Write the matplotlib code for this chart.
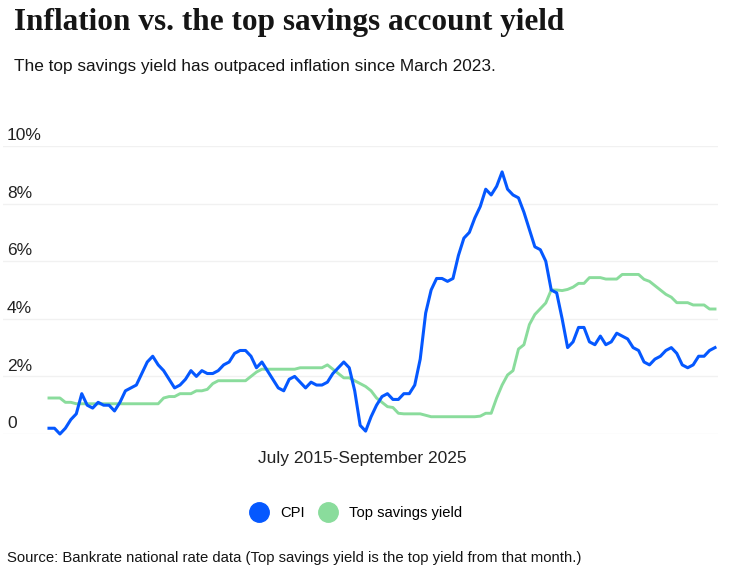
import numpy as np
import matplotlib.pyplot as plt
from matplotlib.lines import Line2D
import pandas as pd

# monthly, July 2015 - September 2025
months = pd.date_range("2015-07-01", "2025-09-01", freq="MS")

cpi = [0.2, 0.2, 0.0, 0.2, 0.5, 0.7,
       1.4, 1.0, 0.9, 1.1, 1.0, 1.0, 0.8, 1.1, 1.5, 1.6, 1.7, 2.1,
       2.5, 2.7, 2.4, 2.2, 1.9, 1.6, 1.7, 1.9, 2.2, 2.0, 2.2, 2.1,
       2.1, 2.2, 2.4, 2.5, 2.8, 2.9, 2.9, 2.7, 2.3, 2.5, 2.2, 1.9,
       1.6, 1.5, 1.9, 2.0, 1.8, 1.6, 1.8, 1.7, 1.7, 1.8, 2.1, 2.3,
       2.5, 2.3, 1.5, 0.3, 0.1, 0.6, 1.0, 1.3, 1.4, 1.2, 1.2, 1.4,
       1.4, 1.7, 2.6, 4.2, 5.0, 5.4, 5.4, 5.3, 5.4, 6.2, 6.8, 7.0,
       7.5, 7.9, 8.5, 8.3, 8.6, 9.1, 8.5, 8.3, 8.2, 7.7, 7.1, 6.5,
       6.4, 6.0, 5.0, 4.9, 4.0, 3.0, 3.2, 3.7, 3.7, 3.2, 3.1, 3.4,
       3.1, 3.2, 3.5, 3.4, 3.3, 3.0, 2.9, 2.5, 2.4, 2.6, 2.7, 2.9,
       3.0, 2.8, 2.4, 2.3, 2.4, 2.7, 2.7, 2.9, 3.0]

top_yield = [1.25, 1.25, 1.25, 1.10, 1.10,
             1.05, 1.05, 1.05, 1.05, 1.05, 1.05, 1.05, 1.05,
             1.05, 1.05, 1.05, 1.05, 1.05, 1.05, 1.05, 1.05,
             1.25, 1.30, 1.30, 1.40, 1.40, 1.40, 1.50, 1.50, 1.55,
             1.75, 1.85, 1.85, 1.85, 1.85, 1.85, 1.85, 2.00, 2.15,
             2.25, 2.25, 2.25, 2.25, 2.25, 2.25, 2.25,
             2.30, 2.30, 2.30, 2.30, 2.30, 2.40, 2.25, 2.10,
             1.95, 1.95, 1.85, 1.75, 1.65, 1.50, 1.25, 1.10, 0.95,
             0.92, 0.72, 0.70, 0.70, 0.70, 0.70, 0.65,
             0.60, 0.60, 0.60, 0.60, 0.60, 0.60, 0.60, 0.60, 0.60,
             0.62, 0.72, 0.72, 1.25, 1.70, 2.05, 2.20, 2.95, 3.10,
             3.80, 4.15, 4.35, 4.55, 5.00, 5.00, 4.98, 5.02, 5.10,
             5.23, 5.23, 5.43, 5.43, 5.43, 5.38, 5.38, 5.38,
             5.54, 5.54, 5.54, 5.54, 5.37, 5.30, 5.15, 5.00, 4.85,
             4.75, 4.56, 4.56, 4.56, 4.48, 4.48, 4.48, 4.34, 4.34]

series_names = ["CPI", "Top savings yield"]
y_ticks = [0, 2, 4, 6, 8, 10]
y_tick_labels = ["0", "2%", "4%", "6%", "8%", "10%"]

blue = "#0558FF"
green = "#8ADC9C"

plt.rcParams['font.family'] = ['Liberation Sans', 'DejaVu Sans']

fig = plt.figure(figsize=(7.32, 5.73), dpi=100)
ax = fig.add_axes([3/732, 1 - 434/573, 715/732, 288/573])

x = np.arange(len(months))
ax.plot(x, top_yield, color=green, lw=2.1, clip_on=False, solid_joinstyle='round')
ax.plot(x, cpi, color=blue, lw=2.2, clip_on=False, solid_joinstyle='round')

px = 666 / (len(months) - 1)
ax.set_xlim(-46 / px, len(months) - 1 + 3 / px)
ax.set_ylim(0, 10)

# light gridlines, labels sitting above them on the left
for t, lab in zip(y_ticks, y_tick_labels):
    ax.axhline(t, color="#f1f1f1", lw=1.0, zorder=0)
    ax.text(4/715, t + 0.1, lab, transform=ax.get_yaxis_transform(),
            ha="left", va="bottom", fontsize=12.5, color="#222222")

ax.set_xticks([])
ax.set_yticks([])
for s in ax.spines.values():
    s.set_visible(False)

fig.text(14/732, 1 - 30/573, "Inflation vs. the top savings account yield",
         family=['Liberation Serif', 'DejaVu Serif'], weight='bold',
         fontsize=22.5, va="baseline", ha="left", color="#151515")
fig.text(14/732, 1 - 71/573,
         "The top savings yield has outpaced inflation since March 2023.",
         fontsize=12.4, va="baseline", ha="left", color="#151515")
fig.text(362/732, 1 - 462.5/573, "July 2015-September 2025",
         fontsize=12.5, va="baseline", ha="center", color="#222222")
fig.text(7/732, 1 - 562/573,
         "Source: Bankrate national rate data (Top savings yield is the top yield from that month.)",
         fontsize=10.7, va="baseline", ha="left", color="#151515")

handles = [Line2D([], [], ls="none", marker="o", ms=14, color=blue),
           Line2D([], [], ls="none", marker="o", ms=14, color=green)]
fig.legend(handles, series_names, loc="center", bbox_to_anchor=(356/732, 1 - 513/573),
           ncol=2, frameon=False, fontsize=10.6, handletextpad=0.85,
           columnspacing=0.98, handlelength=1.2)

fig.savefig("out.png", dpi=100)
